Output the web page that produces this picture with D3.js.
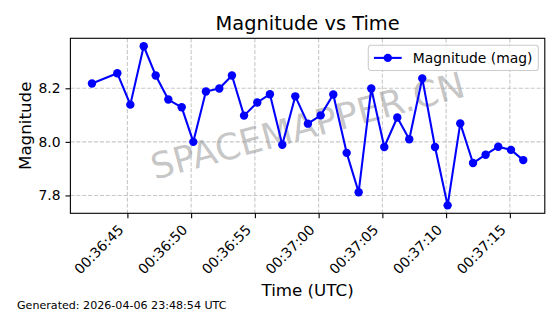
<!DOCTYPE html>
<meta charset="utf-8">

<style>
body { margin: 0; background: #fff; }
svg { font-family: "DejaVu Sans", sans-serif; display: block; }
.grid line {
  stroke: #b0b0b0;
  stroke-opacity: 0.7;
  stroke-width: 1.1px;
  stroke-dasharray: 4.1 1.8;
}
.axis path, .axis line { stroke: #000; stroke-width: 1.1px; }
.axis text { font-family: "DejaVu Sans", sans-serif; font-size: 13.9px; fill: #000; }
</style>

<body>
<svg width=560 height=314></svg>
</body>

<script src="https://cdn.jsdelivr.net/npm/d3@7"></script>
<script>
const times = [
  "00:36:42.22", "00:36:44.21", "00:36:45.23", "00:36:46.28", "00:36:47.22",
  "00:36:48.21", "00:36:49.26", "00:36:50.17", "00:36:51.16", "00:36:52.21",
  "00:36:53.20", "00:36:54.15", "00:36:55.19", "00:36:56.18", "00:36:57.15",
  "00:36:58.17", "00:36:59.16", "00:37:00.16", "00:37:01.15", "00:37:02.20",
  "00:37:03.14", "00:37:04.13", "00:37:05.15", "00:37:06.17", "00:37:07.11",
  "00:37:08.13", "00:37:09.13", "00:37:10.12", "00:37:11.11", "00:37:12.11",
  "00:37:13.10", "00:37:14.09", "00:37:15.09", "00:37:16.05"
]
const magnitudes = [
  8.218, 8.256, 8.139, 8.357, 8.248,
  8.158, 8.129, 8.000, 8.188, 8.199,
  8.248, 8.098, 8.147, 8.178, 7.989,
  8.170, 8.068, 8.099, 8.177, 7.959,
  7.812, 8.199, 7.981, 8.091, 8.010,
  8.237, 7.981, 7.763, 8.069, 7.921,
  7.952, 7.982, 7.970, 7.932
]
const yTicks = [7.8, 8.0, 8.2]

const title = "Magnitude vs Time"
const xLabel = "Time (UTC)"
const yLabel = "Magnitude"
const seriesName = "Magnitude (mag)"
const footer = "Generated: 2026-04-06 23:48:54 UTC"
const watermark = "SPACEMAPPER.CN"

const parseTime = d3.utcParse("%H:%M:%S.%L")
const data = times.map((t, i) => ({
  t: parseTime(t.replace(/\.(\d\d)$/, ".$10")),
  mag: magnitudes[i]
}))

const root = d3.select("svg")
const box = {left: 70.4, right: 544.8, top: 38.3, bottom: 213.3}

// matplotlib-like 5% margins
function padded(ext) {
  const p = (ext[1] - ext[0]) * 0.05
  return [ext[0] - p, ext[1] + p]
}
const tExt = d3.extent(data, d => +d.t)
const x = d3.scaleUtc()
  .domain(padded(tExt).map(v => new Date(v)))
  .range([box.left, box.right])
const y = d3.scaleLinear()
  .domain(padded(d3.extent(data, d => d.mag)))
  .range([box.bottom, box.top])

const xTicks = x.ticks(d3.utcSecond.every(5))

// grid
const grid = root.append("g").attr("class", "grid")
grid.selectAll(".gx").data(xTicks).enter().append("line")
  .attr("x1", d => x(d)).attr("x2", d => x(d))
  .attr("y1", box.top).attr("y2", box.bottom)
grid.selectAll(".gy").data(yTicks).enter().append("line")
  .attr("x1", box.left).attr("x2", box.right)
  .attr("y1", d => y(d)).attr("y2", d => y(d))

// watermark
root.append("text")
  .attr("transform", `translate(${(box.left + box.right) / 2},${(box.top + box.bottom) / 2}) rotate(-15)`)
  .attr("text-anchor", "middle")
  .attr("dominant-baseline", "central")
  .attr("font-size", 36)
  .attr("fill", "#808080")
  .attr("fill-opacity", 0.45)
  .text(watermark)

// series
const line = d3.line().x(d => x(d.t)).y(d => y(d.mag))
root.append("path")
  .datum(data)
  .attr("fill", "none")
  .attr("stroke", "#0000ff")
  .attr("stroke-width", 2.08)
  .attr("stroke-linejoin", "round")
  .attr("d", line)
root.append("g").selectAll("circle")
  .data(data).enter().append("circle")
  .attr("cx", d => x(d.t))
  .attr("cy", d => y(d.mag))
  .attr("r", 4.2)
  .attr("fill", "#0000ff")

// axes
const xAxis = root.append("g")
  .attr("class", "axis")
  .attr("transform", `translate(0,${box.bottom})`)
  .call(d3.axisBottom(x).tickValues(xTicks).tickFormat(d3.utcFormat("%H:%M:%S")).tickSizeInner(4.9).tickSizeOuter(0))
xAxis.select(".domain").remove()
xAxis.selectAll(".tick text")
  .attr("y", 0).attr("dy", 0)
  .attr("text-anchor", "end")
  .attr("transform", "translate(-3.5,17.5) rotate(-45)")

const yAxis = root.append("g")
  .attr("class", "axis")
  .attr("transform", `translate(${box.left},0)`)
  .call(d3.axisLeft(y).tickValues(yTicks).tickFormat(d3.format(".1f")).tickSizeInner(4.9).tickSizeOuter(0).tickPadding(4.9))
yAxis.select(".domain").remove()

// frame
root.append("rect")
  .attr("x", box.left).attr("y", box.top)
  .attr("width", box.right - box.left).attr("height", box.bottom - box.top)
  .attr("fill", "none").attr("stroke", "#000").attr("stroke-width", 1.1)

// legend
const lg = root.append("g").attr("transform", "translate(368.3,45.3)")
lg.append("rect")
  .attr("width", 170).attr("height", 25.2).attr("rx", 2.8)
  .attr("fill", "#fff").attr("fill-opacity", 0.8)
  .attr("stroke", "#cccccc").attr("stroke-width", 1.1)
lg.append("line")
  .attr("x1", 5.6).attr("x2", 33.4).attr("y1", 12.6).attr("y2", 12.6)
  .attr("stroke", "#0000ff").attr("stroke-width", 2.08)
lg.append("circle").attr("cx", 19.5).attr("cy", 12.6).attr("r", 4.2).attr("fill", "#0000ff")
lg.append("text")
  .attr("x", 44.5).attr("y", 17.6)
  .attr("font-size", 13.9)
  .text(seriesName)

// titles
root.append("text")
  .attr("x", (box.left + box.right) / 2).attr("y", 30)
  .attr("text-anchor", "middle").attr("font-size", 19.4)
  .text(title)
root.append("text")
  .attr("x", (box.left + box.right) / 2).attr("y", 296)
  .attr("text-anchor", "middle").attr("font-size", 16.7)
  .text(xLabel)
root.append("text")
  .attr("transform", `translate(31,${(box.top + box.bottom) / 2}) rotate(-90)`)
  .attr("text-anchor", "middle").attr("font-size", 16.7)
  .text(yLabel)
root.append("text")
  .attr("x", 17).attr("y", 309)
  .attr("font-size", 11.1)
  .text(footer)
</script>
